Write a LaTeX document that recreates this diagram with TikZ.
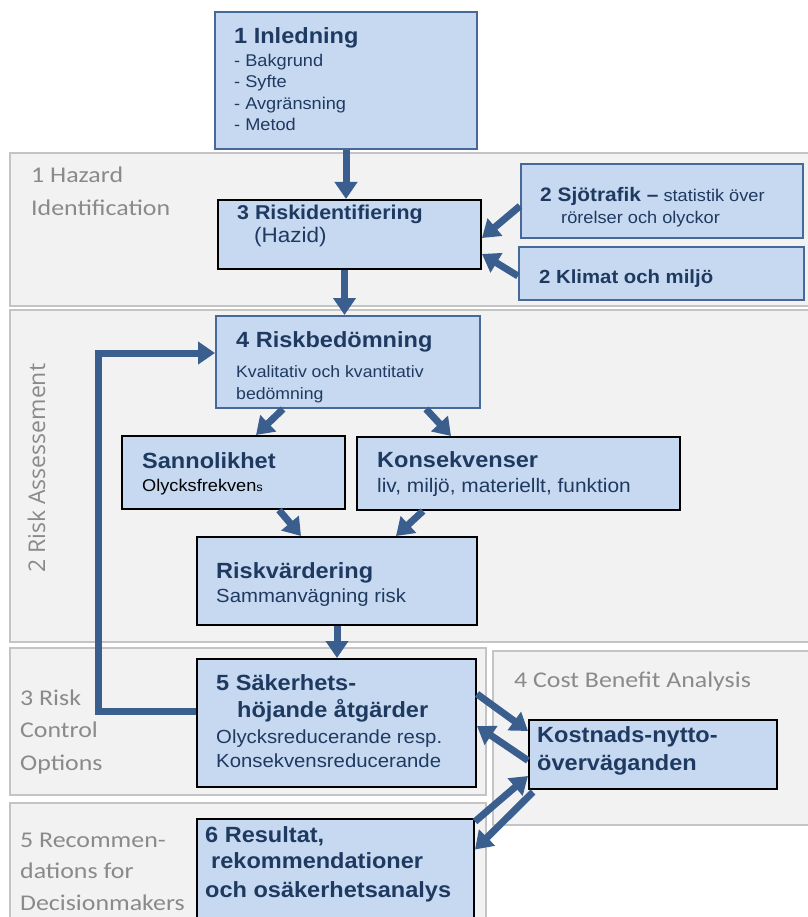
\documentclass[tikz,border=0pt]{standalone}
\usepackage{fontspec}
\setmainfont{Liberation Sans}[FakeStretch=1.07]
\newfontfamily\bandfont{Carlito}[FakeStretch=1.15]
\newfontfamily\rotfont{Open Sans}
\usetikzlibrary{arrows.meta,calc}
\definecolor{bandfill}{HTML}{F2F2F2}
\definecolor{bandline}{HTML}{C4C4C4}
\definecolor{boxfill}{HTML}{C6D9F1}
\definecolor{boxblue}{HTML}{46699A}
\definecolor{arrowblue}{HTML}{3A5F8F}
\definecolor{navy}{HTML}{1F3A60}
\definecolor{labelgray}{HTML}{8A8A8A}
\tikzset{
  band/.style={draw=bandline, fill=bandfill, line width=2.5pt},
  bluebox/.style={draw=boxblue, fill=boxfill, line width=2pt, inner sep=0pt, anchor=north west},
  blackbox/.style={draw=black, fill=boxfill, line width=2pt, inner sep=0pt, anchor=north west},
  txt/.style={anchor=base west, inner sep=0pt, text=navy},
  ttl/.style={txt, font=\bfseries\fontsize{22}{26}\selectfont},
  sub/.style={txt, font=\fontsize{19}{23}\selectfont},
  lbl/.style={anchor=base west, inner sep=0pt, text=labelgray, font=\bandfont\fontsize{22.5}{27}\selectfont},
  arr/.style={draw=arrowblue, line width=7pt, -{Triangle[width=22pt,length=17pt]}},
}
\begin{document}
\begin{tikzpicture}[x=1pt,y=-1pt]
\useasboundingbox (0,0) rectangle (807,917);
% bands
\path[band] (10,153) rectangle (820,306);
\path[band] (10,310) rectangle (820,642);
\path[band] (10,648) rectangle (486,795);
\path[band] (493,651) rectangle (820,825);
\path[band] (10,803) rectangle (486,940);
% band labels
\node[lbl] (lh1) at (31,183) {1 Hazard};
\node[lbl] (lh2) at (31,216) {Identification};
\node[anchor=base west, inner sep=0pt, text=labelgray, rotate=90, font=\rotfont\fontsize{23}{27}\selectfont] (lra) at (45,573) {2 Risk Assessement};
\node[lbl] (lc1) at (20,705) {3 Risk};
\node[lbl] (lc2) at (20,737) {Control};
\node[lbl] (lc3) at (20,770) {Options};
\node[lbl] (lcb) at (514,687) {4 Cost Benefit Analysis};
\node[lbl] (lr1) at (20,847) {5 Recommen-};
\node[lbl] (lr2) at (20,878) {dations for};
\node[lbl] (lr3) at (20,910) {Decisionmakers};
% boxes
\node[bluebox, minimum width=262pt, minimum height=137pt] (b1) at (214,11) {};
\node[blackbox, minimum width=263pt, minimum height=69pt] (b3) at (217,199) {};
\node[bluebox, minimum width=282pt, minimum height=74pt] (sjo) at (520,163) {};
\node[bluebox, minimum width=285pt, minimum height=53pt] (kli) at (518,246) {};
\node[bluebox, minimum width=264pt, minimum height=92pt] (b4) at (215,315) {};
\node[blackbox, minimum width=223pt, minimum height=73pt] (san) at (121,435) {};
\node[blackbox, minimum width=323pt, minimum height=73pt] (kon) at (356,436) {};
\node[blackbox, minimum width=280pt, minimum height=88pt] (rv) at (196,536) {};
\node[blackbox, minimum width=279pt, minimum height=128pt] (b5) at (196,658) {};
\node[blackbox, minimum width=248pt, minimum height=69pt] (kn) at (528,719) {};
\node[blackbox, minimum width=277pt, minimum height=100pt] (b6) at (196,818) {};
% texts
\node[ttl] (t1a) at (234,44) {1 Inledning};
\node[txt, font=\fontsize{17}{20}\selectfont] (t1b) at (234,67) {- Bakgrund};
\node[txt, font=\fontsize{17}{20}\selectfont] (t1c) at (234,88) {- Syfte};
\node[txt, font=\fontsize{17}{20}\selectfont] (t1d) at (234,110) {- Avgränsning};
\node[txt, font=\fontsize{17}{20}\selectfont] (t1e) at (234,131) {- Metod};
\node[txt, font=\bfseries\fontsize{20}{24}\selectfont] (t3a) at (237,220) {3 Riskidentifiering};
\node[txt, font=\fontsize{21}{24}\selectfont] (t3b) at (254,243) {(Hazid)};
\node[txt, font=\fontsize{17}{20}\selectfont] (tsa) at (540,202) {{\bfseries\fontsize{19.5}{23}\selectfont 2 Sjötrafik –} statistik över};
\node[txt, font=\fontsize{17}{20}\selectfont] (tsb) at (561,223) {rörelser och olyckor};
\node[txt, font=\bfseries\fontsize{19}{23}\selectfont] (tk) at (539,283) {2 Klimat och miljö};
\node[ttl] (t4a) at (236,347) {4 Riskbedömning};
\node[txt, font=\fontsize{16.5}{20}\selectfont] (t4b) at (236,377) {Kvalitativ och kvantitativ};
\node[txt, font=\fontsize{16.5}{20}\selectfont] (t4c) at (236,399) {bedömning};
\node[ttl] (tsn1) at (142,468) {Sannolikhet};
\node[txt, text=black, font=\fontsize{17}{20}\selectfont] (tsn2) at (142,491) {Olycksfrekven{\fontsize{12}{14}\selectfont s}};
\node[ttl] (tko1) at (377,467) {Konsekvenser};
\node[txt, font=\fontsize{19.5}{23}\selectfont] (tko2) at (377,492) {liv, miljö, materiellt, funktion};
\node[ttl] (trv1) at (216,578) {Riskvärdering};
\node[sub] (trv2) at (216,602) {Sammanvägning risk};
\node[ttl] (t5a) at (216,690) {5 Säkerhets-};
\node[ttl] (t5b) at (237,717) {höjande åtgärder};
\node[sub] (t5c) at (216,743) {Olycksreducerande resp.};
\node[sub] (t5d) at (216,767) {Konsekvensreducerande};
\node[ttl] (tkn1) at (537,742) {Kostnads-nytto-};
\node[ttl] (tkn2) at (537,770) {överväganden};
\node[ttl] (t6a) at (205,842) {6 Resultat,};
\node[ttl] (t6b) at (211,868) {rekommendationer};
\node[ttl] (t6c) at (205,897) {och osäkerhetsanalys};
% connectors
\coordinate (fb) at (98,500);
\draw[arr] (b1.south) -- (b1.south |- b3.north);
\draw[arr] ($(sjo.west)+(0,5)$) -- ($(b3.east)+(0,3.5)$);
\draw[arr] ($(kli.west)+(0,2.5)$) -- ($(b3.east)+(0,19.5)$);
\draw[arr] ($(b3.south)+(-5,0)$) -- ($(b3.south |- b4.north)+(-5,0)$);
\draw[arr] ($(b4.south)+(-65,0)$) -- ($(san.north)+(22.5,0)$);
\draw[arr] ($(b4.south)+(78,0)$) -- ($(kon.north)+(-67.5,0)$);
\draw[arr] ($(san.south)+(45.5,0)$) -- ($(rv.north)+(-36,0)$);
\draw[arr] ($(kon.south)+(-95.5,0)$) -- ($(rv.north)+(59,0)$);
\draw[arr] (rv.south) -- (rv.south |- b5.north);
\draw[arr] ($(b5.west)+(0,-12)$) -| (fb) |- ($(b4.west)+(0,-9)$);
\draw[arr] ($(b5.east)+(0,-29)$) -- ($(kn.west)+(0,-23.5)$);
\draw[arr] ($(kn.west)+(0,6)$) -- ($(b5.east)+(0,3)$);
\draw[arr] ($(b6.east)+(0,-47.5)$) -- ($(kn.west)+(0,21.5)$);
\draw[arr] ($(kn.south west)+(5,2)$) -- ($(b6.east)+(0,-19.5)$);
\end{tikzpicture}
\end{document}
